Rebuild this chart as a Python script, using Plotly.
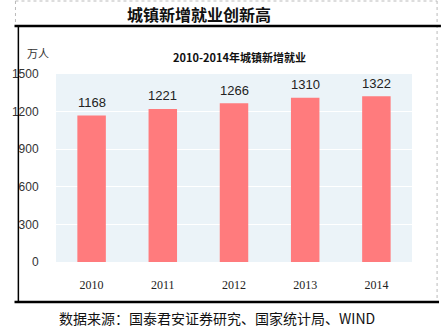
import plotly.graph_objects as go

years = ["2010", "2011", "2012", "2013", "2014"]
jobs = [1168, 1221, 1266, 1310, 1322]
yticks = [0, 300, 600, 900, 1200, 1500]

W, H = 442, 328
L, R, T, B = 43, 30, 74, 66
pw, ph = W - L - R, H - T - B

def px(x):
    return (x - L) / pw

def py(y):
    return (H - B - y) / ph

fig = go.Figure()
fig.add_trace(go.Bar(
    x=years, y=jobs, marker=dict(color="#FF7B7D", line=dict(width=0)),
    width=0.4, hoverinfo="skip",
))

for i, v in enumerate(jobs):
    fig.add_annotation(x=i, y=v, text=str(v), showarrow=False, yshift=13,
                       font=dict(family="Liberation Sans Narrow, Arial", size=13, color="#222"))

shapes = [
    dict(type="line", xref="paper", yref="paper", x0=px(1), x1=px(438), y0=py(1), y1=py(1),
         line=dict(color="#bbbbbb", width=1, dash="dot")),
    dict(type="line", xref="paper", yref="paper", x0=px(1), x1=px(1), y0=py(1), y1=py(26),
         line=dict(color="#bbbbbb", width=1, dash="dot")),
    dict(type="line", xref="paper", yref="paper", x0=px(438), x1=px(438), y0=py(1), y1=py(302),
         line=dict(color="#bbbbbb", width=1, dash="dot")),
    dict(type="line", xref="paper", yref="paper", x0=px(0), x1=px(442), y0=py(26), y1=py(26),
         line=dict(color="black", width=2.5)),
    dict(type="line", xref="paper", yref="paper", x0=px(4), x1=px(4), y0=py(26), y1=py(302),
         line=dict(color="black", width=1.5)),
    dict(type="line", xref="paper", yref="paper", x0=px(0), x1=px(440), y0=py(302), y1=py(302),
         line=dict(color="black", width=2.5)),
]

texts = [
    dict(text="<b>城镇新增就业创新高</b>", x=px(191), y=py(14),
         font=dict(family="Noto Sans CJK SC", size=16, color="#111")),
    dict(text="<b>2010-2014年城镇新增就业</b>", x=px(233), y=py(57),
         font=dict(family="Noto Sans CJK SC", size=11, color="#111")),
    dict(text="万人", x=px(24), y=py(53),
         font=dict(family="Noto Sans CJK SC", size=11, color="#333")),
    dict(text="数据来源：国泰君安证券研究、国家统计局、WIND", x=px(210), y=py(318),
         font=dict(family="Noto Sans CJK SC", size=14, color="#111")),
]
for t in texts:
    fig.add_annotation(xref="paper", yref="paper", showarrow=False,
                       xanchor="center", yanchor="middle", **t)

fig.update_layout(
    width=W, height=H, margin=dict(l=L, r=R, t=T, b=B, pad=0),
    paper_bgcolor="white", plot_bgcolor="#EBF3F8",
    showlegend=False, shapes=shapes, bargap=0.6,
)
fig.update_xaxes(type="category", range=[-0.5, len(years) - 0.5],
                 showgrid=False, zeroline=False, showline=False,
                 ticks="outside", ticklen=12, tickcolor="rgba(0,0,0,0)",
                 tickfont=dict(family="Liberation Serif, serif", size=12, color="#222"))
fig.update_yaxes(range=[0, 1500], tickvals=yticks, showgrid=True, gridcolor="white",
                 gridwidth=1, zeroline=False, showline=False,
                 ticks="outside", ticklen=14, tickcolor="rgba(0,0,0,0)",
                 tickfont=dict(family="Liberation Sans Narrow, Arial", size=12, color="#333"))

fig.write_html("out.html")
